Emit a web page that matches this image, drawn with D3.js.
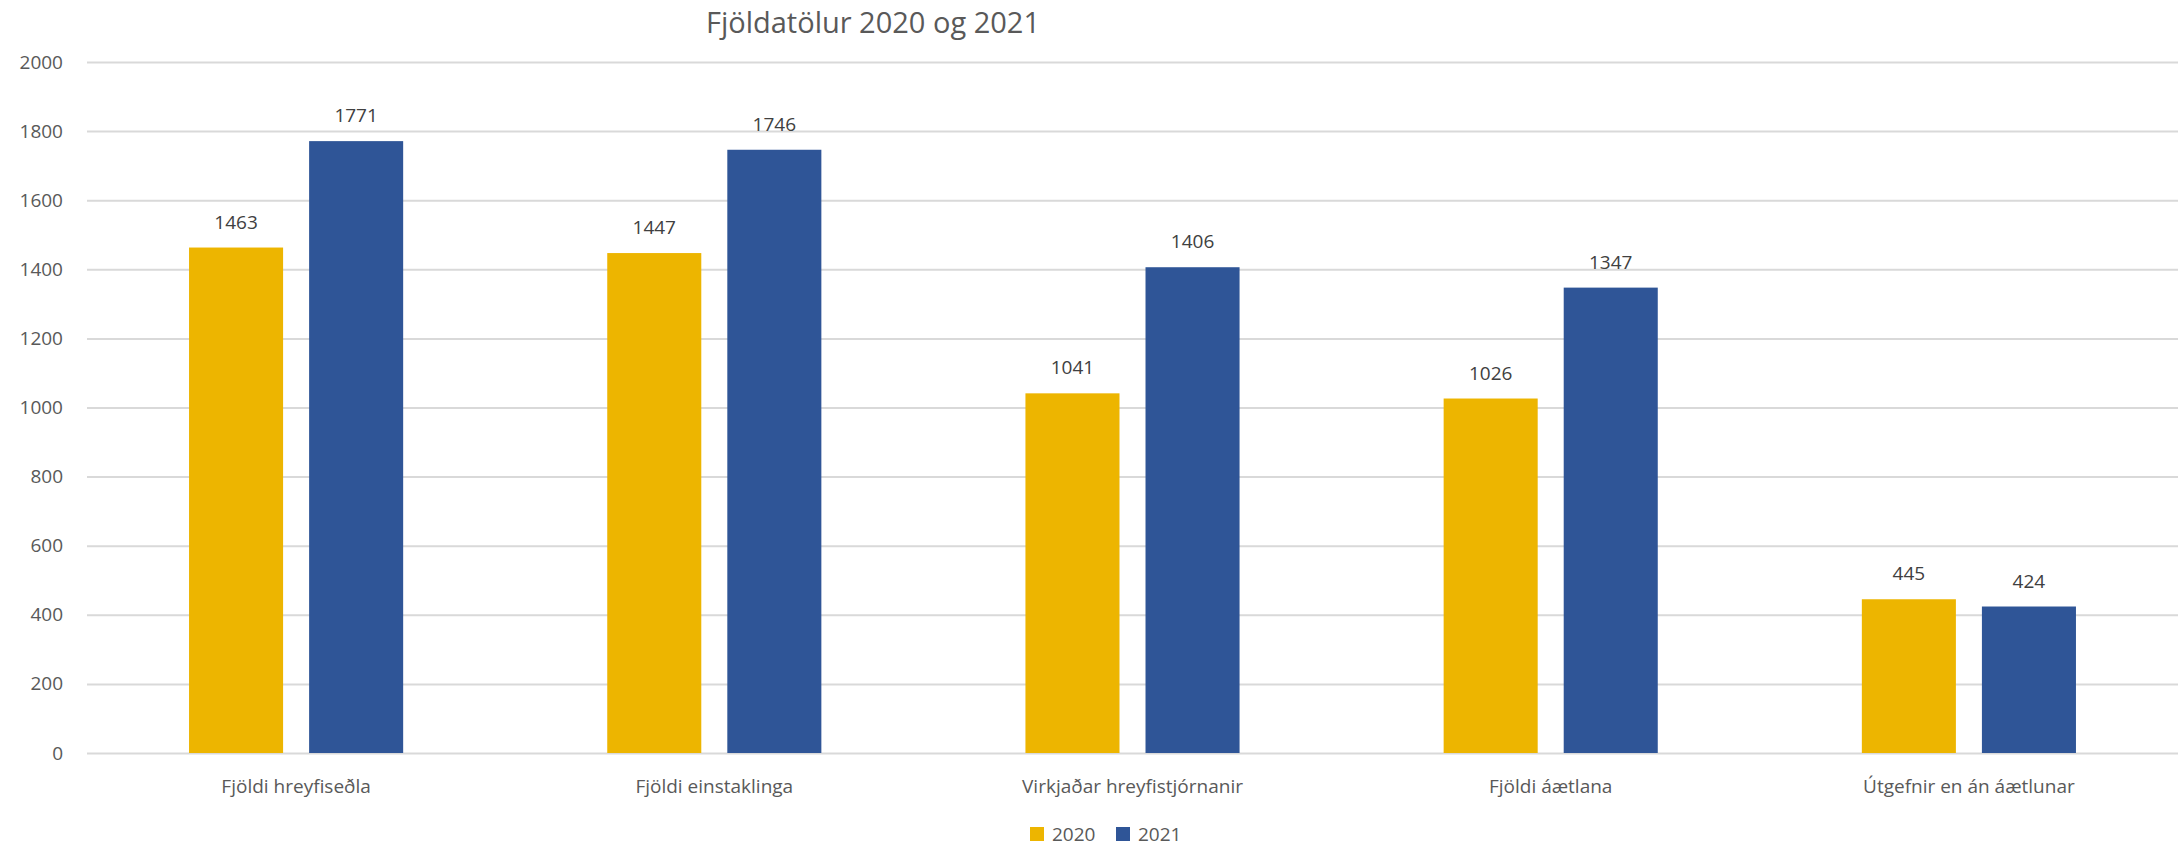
<!DOCTYPE html>
<html>
<head>
	<meta charset="utf-8">
	<title>Fjöldatölur 2020 og 2021</title>
	<script src="https://d3js.org/d3.v7.min.js"></script>
	<style>
		body { margin: 0; background: #fff; }
		text { font-family: "Open Sans", sans-serif; }
	</style>
</head>
<body>
	<svg width="2178" height="848"></svg>
	<script type="text/javascript">
		var categories = ['Fjöldi hreyfiseðla', 'Fjöldi einstaklinga', 'Virkjaðar hreyfistjórnanir', 'Fjöldi áætlana', 'Útgefnir en án áætlunar'];
		var years = ['2020', '2021'];
		var values2020 = [1463, 1447, 1041, 1026, 445];
		var values2021 = [1771, 1746, 1406, 1347, 424];
		var yTicks = [0, 200, 400, 600, 800, 1000, 1200, 1400, 1600, 1800, 2000];
		var colors = ['#EDB500', '#2F5597'];

		var rows = categories.map((c, i) => ({ cat: c, vals: [values2020[i], values2021[i]] }));

		var svg = d3.select('svg');
		// plot box (note: "top" is taken by window.top, so use other names)
		var plotL = 87, plotR = 2178, plotT = 62, plotB = 753;

		var x0 = d3.scaleBand().domain(categories).range([plotL, plotR]).paddingInner(0.488).paddingOuter(0.244);
		var x1 = d3.scaleBand().domain(years).range([0, x0.bandwidth()]).paddingInner(0.2167);
		var y = d3.scaleLinear().domain([0, 2000]).range([plotB, plotT]);

		// gridlines + y labels
		var yAxis = svg.append('g')
			.attr('transform', 'translate(' + plotL + ',0)')
			.call(d3.axisLeft(y).tickValues(yTicks).tickFormat(d3.format('d')).tickSize(-(plotR - plotL)).tickPadding(24));
		yAxis.select('.domain').remove();
		yAxis.selectAll('line').attr('stroke', '#D9D9D9').attr('stroke-width', 2);
		yAxis.selectAll('text').attr('fill', '#595959').style('font-size', '19px');
		yAxis.attr('font-family', null);

		// bars
		var g = svg.selectAll('.grp')
			.data(rows)
			.enter().append('g')
			.attr('transform', d => 'translate(' + x0(d.cat) + ',0)');

		g.selectAll('rect')
			.data(d => d.vals)
			.enter().append('rect')
			.attr('x', (d, i) => x1(years[i]))
			.attr('y', d => y(d))
			.attr('width', x1.bandwidth())
			.attr('height', d => plotB - y(d))
			.attr('fill', (d, i) => colors[i]);

		g.selectAll('.lbl')
			.data(d => d.vals)
			.enter().append('text')
			.attr('x', (d, i) => x1(years[i]) + x1.bandwidth() / 2)
			.attr('y', d => y(d) - 19)
			.attr('text-anchor', 'middle')
			.attr('fill', '#404040')
			.style('font-size', '19px')
			.text(d => d);

		// category labels
		svg.selectAll('.cat')
			.data(categories)
			.enter().append('text')
			.attr('x', d => x0(d) + x0.bandwidth() / 2)
			.attr('y', plotB + 40)
			.attr('text-anchor', 'middle')
			.attr('fill', '#595959')
			.style('font-size', '19px')
			.text(d => d);

		// title
		svg.append('text')
			.attr('x', 873)
			.attr('y', 33)
			.attr('text-anchor', 'middle')
			.attr('fill', '#595959')
			.style('font-size', '29px')
			.text('Fjöldatölur 2020 og 2021');

		// legend
		var lg = svg.selectAll('.leg')
			.data(years)
			.enter().append('g')
			.attr('transform', (d, i) => 'translate(' + (1030 + i * 86) + ',827)');
		lg.append('rect').attr('width', 14).attr('height', 14).attr('fill', (d, i) => colors[i]);
		lg.append('text').attr('x', 22).attr('y', 14).attr('fill', '#595959').style('font-size', '19px').text(d => d);
	</script>
</body>
</html>
